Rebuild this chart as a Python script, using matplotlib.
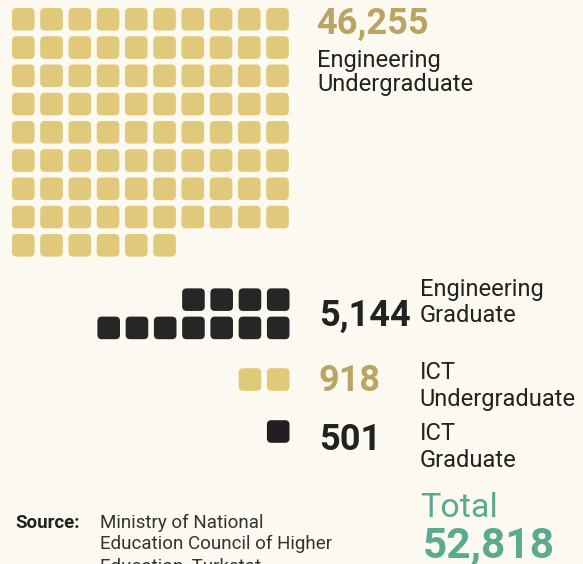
import matplotlib
matplotlib.use("Agg")
import matplotlib.pyplot as plt
from matplotlib.patches import FancyBboxPatch

# ---- data ----
categories = ["Engineering\nUndergraduate", "Engineering\nGraduate",
              "ICT\nUndergraduate", "ICT\nGraduate"]
values = [46255, 5144, 918, 501]
squares = [86, 11, 2, 1]
total_label = "Total"
total_value = 52818
source_label = "Source:"
source_lines = ["Ministry of National", "Education Council of Higher",
                "Education, Turkstat"]

# ---- style ----
BG = "#FCF9F1"
GOLD = "#E0C97A"
GOLD_TXT = "#B9A462"
DARK = "#262626"
DARK2 = "#231F20"
TEAL = "#5AAA90"
TXT = "#222222"
FONT = ["Roboto", "DejaVu Sans"]

sq_colors = [GOLD, DARK, GOLD, DARK2]
num_colors = [GOLD_TXT, TXT, GOLD_TXT, TXT]

fig = plt.figure(figsize=(5.83, 5.64), dpi=100)
fig.patch.set_facecolor(BG)
ax = fig.add_axes([0, 0, 1, 1])
ax.set_facecolor(BG)
ax.set_xlim(0, 583)
ax.set_ylim(564, 0)
ax.axis("off")

SIZE = 22.6
PITCH = 28.25
R = 4.5


def sq(x, y, color):
    ax.add_patch(FancyBboxPatch((x, y), SIZE, SIZE,
                                boxstyle=f"round,pad=0,rounding_size={R}",
                                facecolor=color, edgecolor="none"))


# group 1: left-aligned grid, 10 per row, filled top-down
x0, y0 = 12, 8
for i in range(squares[0]):
    r, c = divmod(i, 10)
    sq(x0 + c * PITCH, y0 + r * PITCH, sq_colors[0])

# groups 2-4: right-aligned, filled from bottom-right, 7 per row
right = 289.5
bottoms = [339.2, 390.8, 442.8]
for g, bottom in zip(range(1, 4), bottoms):
    for i in range(squares[g]):
        r, c = divmod(i, 7)
        sq(right - SIZE - c * PITCH, bottom - SIZE - r * PITCH, sq_colors[g])

# numbers
num_pos = [(316, 33.8), (319, 326.2), (319, 390.6), (319, 450.2)]
for v, (x, y), col in zip(values, num_pos, num_colors):
    ax.text(x, y, f"{v:,}", fontsize=26, fontweight="bold", color=col,
            family=FONT, va="baseline", ha="left")

# labels
lab_pos = [(317, 66.7, 24.0), (419.5, 295.7, 26.0), (419.5, 379.3, 26.7), (419.5, 440.0, 26.7)]
for cat, (x, y, pitch) in zip(categories, lab_pos):
    for k, line in enumerate(cat.split("\n")):
        ax.text(x, y + k * pitch, line, fontsize=17, color=TXT, family=FONT,
                va="baseline", ha="left")

# source
ax.text(15, 527.7, source_label, fontsize=13.5, fontweight="bold", color=TXT,
        family=FONT, va="baseline", ha="left")
for k, line in enumerate(source_lines):
    ax.text(100, 527.7 + k * 21.7, line, fontsize=13.5, color="#333333",
            family=FONT, va="baseline", ha="left")

# total
ax.text(420, 516.7, total_label, fontsize=24.5, fontweight="normal", color=TEAL,
        family=FONT, va="baseline", ha="left")
ax.text(423, 557, f"{total_value:,}", fontsize=30.5, fontweight="bold",
        color=TEAL, family=FONT, va="baseline", ha="left")

fig.savefig("out.png", dpi=100, facecolor=BG)
